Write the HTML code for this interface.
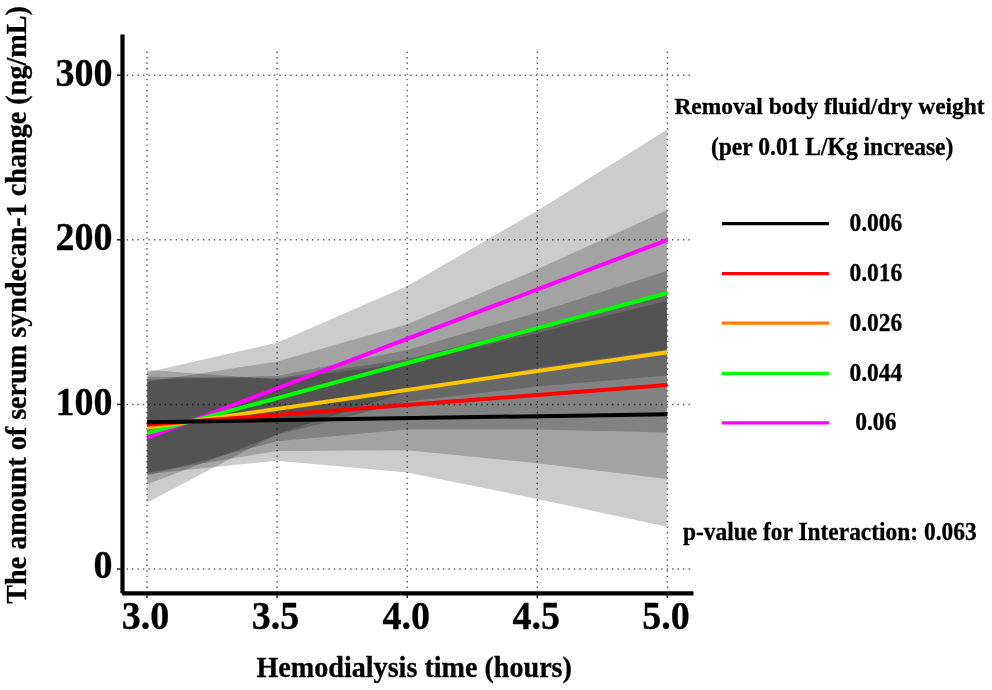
<!DOCTYPE html>
<html><head><meta charset="utf-8"><title>chart</title>
<style>
html,body{margin:0;padding:0;background:#fff;}
body{width:992px;height:690px;overflow:hidden;font-family:"Liberation Serif",serif;}
svg{display:block;will-change:transform;}
text{font-family:"Liberation Serif",serif;font-weight:bold;fill:#000;stroke:#000;stroke-width:0.3px;stroke-linejoin:round;}
</style></head><body>
<svg width="992" height="690" viewBox="0 0 992 690">
<rect width="992" height="690" fill="#fff"/>
<g stroke="#606060" stroke-width="1.45" stroke-dasharray="1.42 4.0345" fill="none">
<line x1="147.0" y1="51.6" x2="147.0" y2="591" stroke-dasharray="1.42 4.039"/>
<line x1="277.1" y1="51.6" x2="277.1" y2="591" stroke-dasharray="1.42 4.039"/>
<line x1="407.2" y1="51.6" x2="407.2" y2="591" stroke-dasharray="1.42 4.039"/>
<line x1="537.3" y1="51.6" x2="537.3" y2="591" stroke-dasharray="1.42 4.039"/>
<line x1="667.4" y1="51.6" x2="667.4" y2="591" stroke-dasharray="1.42 4.039"/>
<line x1="121.12" y1="75.2" x2="692" y2="75.2" />
<line x1="121.12" y1="239.8" x2="692" y2="239.8" />
<line x1="121.12" y1="404.4" x2="692" y2="404.4" />
<line x1="121.12" y1="569.0" x2="692" y2="569.0" />
</g>
<g>
<polygon points="147.3,370.0 277.1,379.4 407.2,363.6 537.3,333.1 666.9,301.0 666.9,526.8 537.3,498.9 407.2,472.5 277.1,460.7 147.3,474.0" fill="#000" fill-opacity="0.2"/>
<polygon points="147.3,376.8 277.1,378.2 407.2,359.3 537.3,326.4 666.9,291.0 666.9,479.0 537.3,463.2 407.2,450.2 277.1,451.0 147.3,472.4" fill="#000" fill-opacity="0.2"/>
<polygon points="147.3,379.4 277.1,376.0 407.2,350.1 537.3,312.4 666.9,270.9 666.9,432.6 537.3,429.4 407.2,429.5 277.1,441.3 147.3,475.5" fill="#000" fill-opacity="0.2"/>
<polygon points="147.3,381.8 277.1,361.4 407.2,324.2 537.3,269.3 666.9,210.2 666.9,375.6 537.3,386.5 407.2,401.6 277.1,434.8 147.3,484.3" fill="#000" fill-opacity="0.2"/>
<polygon points="147.3,372.2 277.1,342.7 407.2,286.0 537.3,210.7 666.9,129.8 666.9,349.6 537.3,367.7 407.2,391.4 277.1,434.0 147.3,502.6" fill="#000" fill-opacity="0.2"/>
</g>
<g fill="none">
<line x1="147" y1="437.92" x2="667.4" y2="239.85" stroke="#ff00ff" stroke-width="4.0"/>
<line x1="147" y1="433.12" x2="667.4" y2="293.05" stroke="#00ff00" stroke-width="4.0"/>
<line x1="147" y1="427.80" x2="667.4" y2="352.15" stroke="#ffc400" stroke-width="4.0"/>
<line x1="147" y1="424.85" x2="667.4" y2="384.95" stroke="#ff0000" stroke-width="4.0"/>
<line x1="147" y1="422.25" x2="667.4" y2="414.15" stroke="#000000" stroke-width="4.0"/>
</g>
<g stroke="#000" fill="none">
<line x1="122.5" y1="34.5" x2="122.5" y2="593.3" stroke-width="4.2"/>
<line x1="122.2" y1="593.4" x2="693.5" y2="593.4" stroke-width="4.2"/>
</g>
<g stroke="#222" stroke-width="1.5" fill="none">
<line x1="147.0" y1="595" x2="147.0" y2="598" />
<line x1="277.1" y1="595" x2="277.1" y2="598" />
<line x1="407.2" y1="595" x2="407.2" y2="598" />
<line x1="537.3" y1="595" x2="537.3" y2="598" />
<line x1="667.4" y1="595" x2="667.4" y2="598" />
<line x1="116.9" y1="75.2" x2="121" y2="75.2" />
<line x1="116.9" y1="239.8" x2="121" y2="239.8" />
<line x1="116.9" y1="404.4" x2="121" y2="404.4" />
<line x1="116.9" y1="569.0" x2="121" y2="569.0" />
</g>
<text transform="translate(112.6,86.2) scale(1,1.07)" text-anchor="end" font-size="38">300</text>
<text transform="translate(112.6,250.2) scale(1,1.07)" text-anchor="end" font-size="38">200</text>
<text transform="translate(112.6,415.1) scale(1,1.07)" text-anchor="end" font-size="38">100</text>
<text transform="translate(112.6,578.3) scale(1,1.07)" text-anchor="end" font-size="38">0</text>
<text transform="translate(145.5,628.8) scale(1,1.07)" text-anchor="middle" font-size="38">3.0</text>
<text transform="translate(275.6,628.8) scale(1,1.07)" text-anchor="middle" font-size="38">3.5</text>
<text transform="translate(406.2,628.8) scale(1,1.07)" text-anchor="middle" font-size="38">4.0</text>
<text transform="translate(536.3,628.8) scale(1,1.07)" text-anchor="middle" font-size="38">4.5</text>
<text transform="translate(665.9,628.8) scale(1,1.07)" text-anchor="middle" font-size="38">5.0</text>
<text transform="translate(414.2,677.05) scale(1,1.03)" text-anchor="middle" font-size="28.12">Hemodialysis time (hours)</text>
<text transform="translate(26.2,304.9) rotate(-90) scale(1,1.035)" text-anchor="middle" font-size="28.18">The amount of serum syndecan-1 change (ng/mL)</text>
<text transform="translate(829.5,113.95) scale(1,1.03)" text-anchor="middle" font-size="23.42">Removal body fluid/dry weight</text>
<text transform="translate(832.15,154.9) scale(1,1.03)" text-anchor="middle" font-size="23.57">(per 0.01 L/Kg increase)</text>
<line x1="721.9" y1="223.50" x2="828.9" y2="223.50" stroke="#000000" stroke-width="3.25"/>
<text transform="translate(849.4,231.10) scale(1,1.10)" font-size="23.56">0.006</text>
<line x1="721.9" y1="273.70" x2="828.9" y2="273.70" stroke="#ff0000" stroke-width="3.25"/>
<text transform="translate(849.4,281.30) scale(1,1.10)" font-size="23.56">0.016</text>
<line x1="721.9" y1="323.15" x2="828.9" y2="323.15" stroke="#ff8000" stroke-width="3.25"/>
<text transform="translate(849.4,330.75) scale(1,1.10)" font-size="23.56">0.026</text>
<line x1="721.9" y1="373.35" x2="828.9" y2="373.35" stroke="#00ff00" stroke-width="3.25"/>
<text transform="translate(849.4,380.95) scale(1,1.10)" font-size="23.56">0.044</text>
<line x1="721.9" y1="422.95" x2="828.9" y2="422.95" stroke="#ff00ff" stroke-width="3.25"/>
<text transform="translate(855.2,430.15) scale(1,1.10)" font-size="23.56">0.06</text>
<text transform="translate(683,539.6) scale(1,1.03)" font-size="23.44">p-value for Interaction: 0.063</text>
</svg>
</body></html>
